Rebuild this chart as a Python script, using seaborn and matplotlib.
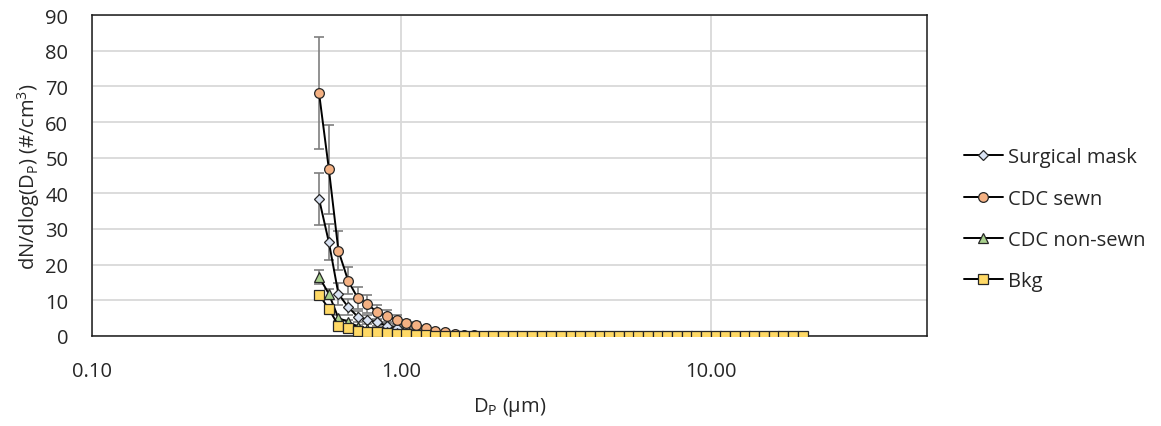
import numpy as np
import matplotlib
matplotlib.use("Agg")
import matplotlib.pyplot as plt
import seaborn as sns

# APS channel midpoints (um)
dp = [0.542, 0.583, 0.626, 0.673, 0.723, 0.777, 0.835, 0.898, 0.965, 1.037,
      1.114, 1.197, 1.286, 1.382, 1.486, 1.596, 1.715, 1.843, 1.981, 2.129,
      2.288, 2.458, 2.642, 2.839, 3.051, 3.278, 3.523, 3.786, 4.068, 4.371,
      4.698, 5.048, 5.425, 5.829, 6.264, 6.732, 7.234, 7.774, 8.354, 8.977,
      9.647, 10.37, 11.14, 11.97, 12.86, 13.82, 14.86, 15.96, 17.15, 18.43,
      19.81]

surgical = [38.4, 26.3, 11.8, 8.1, 5.4, 4.6, 3.8, 2.9, 2.3, 1.8,
            1.3, 0.9, 0.6, 0.4, 0.25, 0.15, 0.1, 0.07, 0.05, 0.04,
            0.03, 0.02, 0.02, 0.01, 0.01, 0.01, 0.0, 0.0, 0.0, 0.0,
            0.0, 0.0, 0.0, 0.0, 0.0, 0.0, 0.0, 0.0, 0.0, 0.0,
            0.0, 0.0, 0.0, 0.0, 0.0, 0.0, 0.0, 0.0, 0.0, 0.0,
            0.0]
surgical_err = [7.2, 5.0, 3.0, 2.2, 1.6, 1.2, 1.0, 0.8, 0.6, 0.5,
                0.4, 0.3, 0.2, 0.1, 0.1, 0.05, 0.03, 0.02, 0.01, 0.01,
                0.0, 0.0, 0.0, 0.0, 0.0, 0.0, 0.0, 0.0, 0.0, 0.0,
                0.0, 0.0, 0.0, 0.0, 0.0, 0.0, 0.0, 0.0, 0.0, 0.0,
                0.0, 0.0, 0.0, 0.0, 0.0, 0.0, 0.0, 0.0, 0.0, 0.0,
                0.0]

sewn = [68.1, 46.8, 23.9, 15.5, 10.6, 9.0, 6.6, 5.6, 4.6, 3.6,
        3.1, 2.2, 1.5, 1.0, 0.6, 0.35, 0.2, 0.12, 0.08, 0.05,
        0.04, 0.03, 0.02, 0.02, 0.01, 0.01, 0.0, 0.0, 0.0, 0.0,
        0.0, 0.0, 0.0, 0.0, 0.0, 0.0, 0.0, 0.0, 0.0, 0.0,
        0.0, 0.0, 0.0, 0.0, 0.0, 0.0, 0.0, 0.0, 0.0, 0.0,
        0.0]
sewn_err = [15.8, 12.5, 5.4, 3.8, 3.0, 2.5, 2.0, 1.6, 1.3, 1.0,
            0.8, 0.6, 0.4, 0.3, 0.2, 0.1, 0.05, 0.03, 0.02, 0.01,
            0.0, 0.0, 0.0, 0.0, 0.0, 0.0, 0.0, 0.0, 0.0, 0.0,
            0.0, 0.0, 0.0, 0.0, 0.0, 0.0, 0.0, 0.0, 0.0, 0.0,
            0.0, 0.0, 0.0, 0.0, 0.0, 0.0, 0.0, 0.0, 0.0, 0.0,
            0.0]

nonsewn = [16.6, 11.8, 5.0, 4.0, 2.6, 2.0, 1.5, 1.1, 0.8, 0.5,
           0.35, 0.2, 0.12, 0.08, 0.05, 0.03, 0.02, 0.01, 0.01, 0.0,
           0.0, 0.0, 0.0, 0.0, 0.0, 0.0, 0.0, 0.0, 0.0, 0.0,
           0.0, 0.0, 0.0, 0.0, 0.0, 0.0, 0.0, 0.0, 0.0, 0.0,
           0.0, 0.0, 0.0, 0.0, 0.0, 0.0, 0.0, 0.0, 0.0, 0.0,
           0.0]
nonsewn_err = [2.0, 1.5, 0.8, 0.6, 0.4, 0.3, 0.2, 0.15, 0.1, 0.08,
               0.05, 0.03, 0.02, 0.01, 0.0, 0.0, 0.0, 0.0, 0.0, 0.0,
               0.0, 0.0, 0.0, 0.0, 0.0, 0.0, 0.0, 0.0, 0.0, 0.0,
               0.0, 0.0, 0.0, 0.0, 0.0, 0.0, 0.0, 0.0, 0.0, 0.0,
               0.0, 0.0, 0.0, 0.0, 0.0, 0.0, 0.0, 0.0, 0.0, 0.0,
               0.0]

bkg = [11.6, 7.6, 2.9, 2.1, 1.5, 1.2, 1.0, 0.8, 0.6, 0.45,
       0.3, 0.2, 0.12, 0.08, 0.05, 0.03, 0.02, 0.01, 0.01, 0.0,
       0.0, 0.0, 0.0, 0.0, 0.0, 0.0, 0.0, 0.0, 0.0, 0.0,
       0.0, 0.0, 0.0, 0.0, 0.0, 0.0, 0.0, 0.0, 0.0, 0.0,
       0.0, 0.0, 0.0, 0.0, 0.0, 0.0, 0.0, 0.0, 0.0, 0.0,
       0.0]
bkg_err = [1.0, 0.8, 0.4, 0.3, 0.2, 0.15, 0.1, 0.08, 0.05, 0.03,
           0.02, 0.01, 0.0, 0.0, 0.0, 0.0, 0.0, 0.0, 0.0, 0.0,
           0.0, 0.0, 0.0, 0.0, 0.0, 0.0, 0.0, 0.0, 0.0, 0.0,
           0.0, 0.0, 0.0, 0.0, 0.0, 0.0, 0.0, 0.0, 0.0, 0.0,
           0.0, 0.0, 0.0, 0.0, 0.0, 0.0, 0.0, 0.0, 0.0, 0.0,
           0.0]

labels = ["Surgical mask", "CDC sewn", "CDC non-sewn", "Bkg"]
series = [surgical, sewn, nonsewn, bkg]
errors = [surgical_err, sewn_err, nonsewn_err, bkg_err]
markers = ["D", "o", "^", "s"]
msizes = [5.5, 7, 6.5, 6.5]
fills = ["#dae3f3", "#f4b183", "#a9d18e", "#ffd966"]

sns.set_style("white")
plt.rcParams["font.family"] = ["Open Sans", "DejaVu Sans"]
plt.rcParams["mathtext.default"] = "regular"
FS = 14.5
TXT = "#262626"

fig, ax = plt.subplots(figsize=(11.61, 4.27), dpi=100)
fig.subplots_adjust(left=0.0792, right=0.7985, top=0.9625, bottom=0.2108)

for lab, y, e, m, ms, fc in zip(labels, series, errors, markers, msizes, fills):
    ax.errorbar(dp, y, yerr=e, fmt="none", ecolor="#7f7f7f", elinewidth=1.2,
                capsize=3.5, capthick=1.2, zorder=2)
    sns.lineplot(x=dp, y=y, ax=ax, color="black", linewidth=1.4, marker=m,
                 markersize=ms, markerfacecolor=fc, markeredgecolor="#262626",
                 markeredgewidth=0.9, label=lab, zorder=3)

ax.set_xscale("log")
ax.set_xlim(0.1, 50)
ax.set_ylim(0, 90)
ax.set_yticks(np.arange(0, 91, 10))
ax.set_xticks([0.1, 1, 10])
ax.set_xticklabels(["0.10", "1.00", "10.00"])
ax.xaxis.set_minor_locator(matplotlib.ticker.NullLocator())
ax.grid(True, which="major", color="#d9d9d9", linewidth=1.3)
ax.set_axisbelow(True)
for s in ["top", "right", "left", "bottom"]:
    ax.spines[s].set_color("#1a1a1a")
    ax.spines[s].set_linewidth(1.1)
ax.tick_params(axis="y", length=0, pad=17, labelsize=FS, colors=TXT)
ax.tick_params(axis="x", length=0, pad=18, labelsize=FS, colors=TXT)

ax.set_xlabel("D$_P$ (µm)", fontsize=FS, color=TXT, labelpad=10)
ax.set_ylabel("dN/dlog(D$_P$) (#/cm$^3$)", fontsize=FS, color=TXT,
              labelpad=2)

leg = ax.legend(loc="center left", bbox_to_anchor=(1.035, 0.364), frameon=False,
                fontsize=FS, labelspacing=1.05, handlelength=1.9,
                handletextpad=0.25, borderaxespad=0)
for t in leg.get_texts():
    t.set_color(TXT)

fig.savefig("out.png", dpi=100)
